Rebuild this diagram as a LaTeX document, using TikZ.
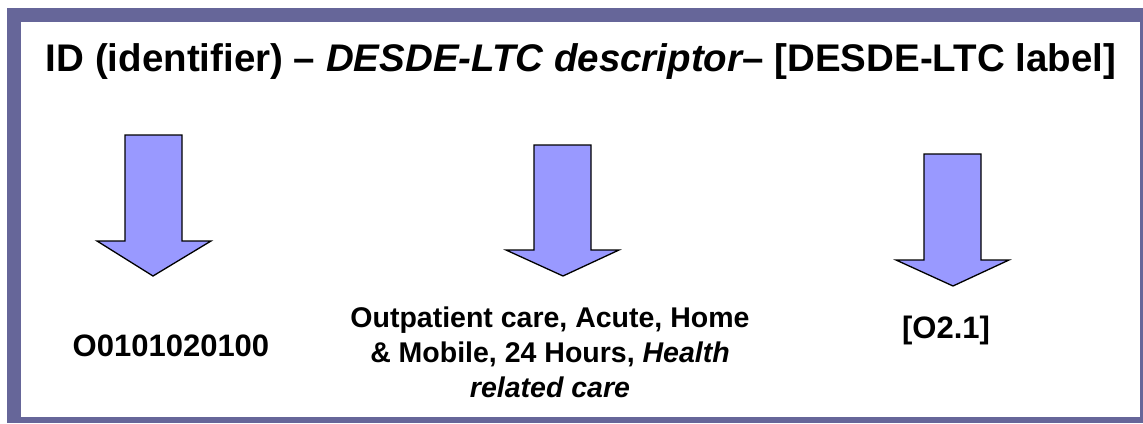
\documentclass[tikz,border=0pt]{standalone}
\usepackage{fontspec}
\setmainfont{Liberation Sans}
\definecolor{framecol}{RGB}{102,102,153}
\definecolor{arrowcol}{RGB}{153,153,255}

\begin{document}
\begin{tikzpicture}[x=1pt,y=-1pt,
  blockarrow/.style={draw=black,line width=1.3pt,fill=arrowcol,line join=miter},
  head/.style={font=\fontsize{38.5}{45}\selectfont\bfseries,inner sep=0pt,anchor=base},
  codetext/.style={font=\fontsize{31}{36}\selectfont\bfseries,inner sep=0pt,anchor=base},
  desctext/.style={font=\fontsize{28.5}{35}\selectfont\bfseries,inner sep=0pt,anchor=base,align=center}]
\useasboundingbox (0,0) rectangle (1143,423);
% frame
\fill[framecol] (7,8) rectangle (1143,423);
\fill[white] (21,22) rectangle (1140,417);
% heading
\node[head] (title) at (581,71) {ID (identifier) -- {\itshape DESDE-LTC descriptor}-- [DESDE-LTC label]};
% arrows
\draw[blockarrow] (125,135) -- (182,135) -- (182,241) -- (211,241) -- (153,276) -- (97,241) -- (125,241) -- cycle;
\draw[blockarrow] (534,145) -- (591,145) -- (591,250) -- (619,250) -- (563,276) -- (506,250) -- (534,250) -- cycle;
\draw[blockarrow] (924,154) -- (981,154) -- (981,260) -- (1009,260) -- (953,286) -- (896,260) -- (924,260) -- cycle;
% labels
\node[codetext] (id) at (171,356) {O0101020100};
\node[desctext] (descriptor) at (550,397) {Outpatient care, Acute, Home\\ \& Mobile, 24 Hours, {\itshape Health}\\ {\itshape related care}};
\node[codetext] (label) at (946,338) {[O2.1]};
\end{tikzpicture}
\end{document}
